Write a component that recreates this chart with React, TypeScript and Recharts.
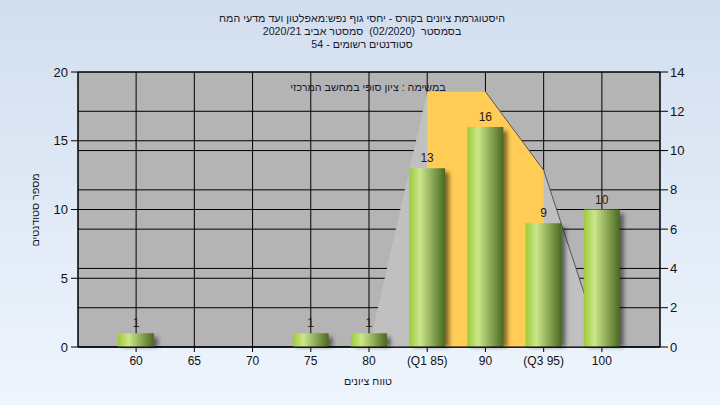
import React from 'react'
import {
  ComposedChart, Bar, Area, XAxis, YAxis, CartesianGrid, LabelList,
} from 'recharts'

// grade ranges on the x axis
const categories = ['60', '65', '70', '75', '80', '(Q1 85)', '90', '(Q3 95)', '100']
// number of students per range
const counts = [1, 0, 0, 1, 1, 13, 16, 9, 10]
// background distribution shape (right axis)
const spread = [null, null, null, null, 0, 13, 13, 9, 0]
// Q1..Q3 band (right axis)
const quartiles = [null, null, null, null, null, 13, 13, 9, null]
// outline on the falling side
const edge = [null, null, null, null, null, null, 13, 9, 0]

const leftTicks = [0, 5, 10, 15, 20]
const rightTicks = [0, 2, 4, 6, 8, 10, 12, 14]

const titleLines = [
  'היסטוגרמת ציונים בקורס - יחסי גוף נפש:מאפלטון ועד מדעי המח',
  'בסמסטר  (02/2020)  סמסטר אביב 2020/21',
  'סטודנטים רשומים - 54',
]

const data = categories.map((c, i) => ({
  name: c,
  count: counts[i],
  spread: spread[i],
  quartiles: quartiles[i],
  edge: edge[i],
}))

const font = '"Liberation Sans", Arial, sans-serif'
const small = 10.7

function CylinderBar(props: any) {
  const { x, y, width, height } = props
  if (!height || height <= 0) return null
  return (
    <g>
      <rect x={x + 4} y={y + 4} width={width} height={height - 4} fill="#000" opacity={0.5} filter="url(#barShadow)" />
      <rect x={x} y={y} width={width} height={height} fill="url(#barGrad)" />
    </g>
  )
}

function CountLabel(props: any) {
  const { x, y, width, value } = props
  if (!value) return null
  return (
    <text x={x + width / 2} y={y - 6} textAnchor="middle" fontSize={12} fontFamily={font} fill="#2a1a1a">
      {value}
    </text>
  )
}

const textStyle: React.CSSProperties = {
  position: 'absolute', textAlign: 'center', fontSize: small, lineHeight: '13px',
  color: '#1a1a2a', whiteSpace: 'pre',
}

export default function App() {
  return (
    <div style={{
      position: 'absolute', left: 0, top: 0, width: 720, height: 405, overflow: 'hidden',
      background: 'linear-gradient(#d2deef, #eef5fd)', fontFamily: font,
    }}>
      {titleLines.map((t, i) => (
        <div key={i} dir="rtl" style={{ ...textStyle, left: 0, width: 724, top: 12 + i * 13 }}>{t}</div>
      ))}
      <ComposedChart width={720} height={405} data={data} margin={{ top: 72, right: 0, bottom: 0, left: 0 }}>
        <defs>
          <linearGradient id="barGrad" x1="0" y1="0" x2="1" y2="0">
            <stop offset="0%" stopColor="#9ccb3a" />
            <stop offset="30%" stopColor="#cde68c" />
            <stop offset="65%" stopColor="#8aa855" />
            <stop offset="100%" stopColor="#4a6920" />
          </linearGradient>
          <filter id="barShadow" x="-50%" y="-50%" width="200%" height="200%">
            <feGaussianBlur stdDeviation="2" />
          </filter>
        </defs>
        <CartesianGrid yAxisId="left" stroke="#000" fill="#b4b4b4" fillOpacity={1} />
        <CartesianGrid yAxisId="right" stroke="#000" vertical={false} />
        <XAxis
          dataKey="name" height={58} padding={{ left: 29, right: 29 }}
          stroke="#000" tickSize={5} tickMargin={4}
          tick={{ fill: '#111', fontSize: 12, fontFamily: font }}
        />
        <YAxis
          yAxisId="left" width={78} domain={[0, 20]} ticks={leftTicks} stroke="#000"
          tickSize={7} tickMargin={3} tick={{ fill: '#111', fontSize: 13, fontFamily: font }}
        />
        <YAxis
          yAxisId="right" orientation="right" width={60} domain={[0, 14]} ticks={rightTicks} stroke="#000"
          tickSize={8} tickMargin={2} tick={{ fill: '#111', fontSize: 13, fontFamily: font }}
        />
        <Area yAxisId="right" dataKey="spread" type="linear" fill="#c0c0c0" fillOpacity={1} stroke="none" isAnimationActive={false} />
        <Area yAxisId="right" dataKey="quartiles" type="linear" fill="#ffcc55" fillOpacity={1} stroke="none" isAnimationActive={false} />
        <Area yAxisId="right" dataKey="edge" type="linear" fill="none" stroke="#555" strokeWidth={1} dot={false} isAnimationActive={false} />
        <Bar yAxisId="left" dataKey="count" barSize={36} shape={<CylinderBar />} isAnimationActive={false}>
          <LabelList dataKey="count" content={<CountLabel />} />
        </Bar>
      </ComposedChart>
      <div dir="rtl" style={{ ...textStyle, left: 268, width: 200, top: 81 }}>במשימה : ציון סופי במחשב המרכזי</div>
      <div dir="rtl" style={{ ...textStyle, left: 268, width: 200, top: 375 }}>טווח ציונים</div>
      <div dir="rtl" style={{
        ...textStyle, left: -15, width: 100, top: 203, height: 14, lineHeight: '14px',
        transform: 'rotate(-90deg)', transformOrigin: '50% 50%',
      }}>מספר סטודנטים</div>
    </div>
  )
}
